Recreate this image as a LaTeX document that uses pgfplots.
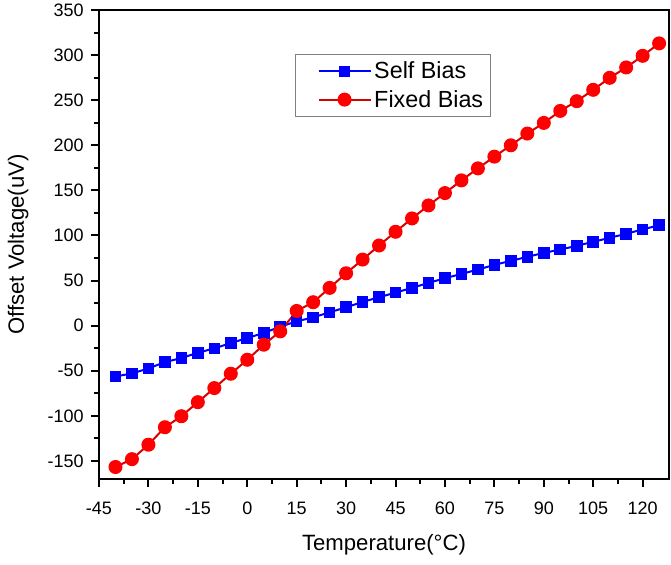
\documentclass[border=0pt]{standalone}
\usepackage{fontspec}
\setmainfont{Liberation Sans}
\usepackage{pgfplots}
\pgfplotsset{compat=1.18}
\begin{document}
\begin{tikzpicture}
\begin{axis}[
 scale only axis, width=427.5pt, height=351.75pt,
 xmin=-45, xmax=128, ymin=-170, ymax=350,
 xtick={-45,-30,...,120}, ytick={-150,-100,...,350},
 minor x tick num=1, minor y tick num=1,
 tick align=outside, xtick pos=bottom, ytick pos=left,
 major tick length=6pt, minor tick length=3.5pt,
 axis line style={line width=1.5pt},
 every tick/.style={line width=1.5pt,black},
 ticklabel style={font=\fontsize{13.5}{15}\selectfont},
 xticklabel style={yshift=-8pt},
 yticklabel style={xshift=-2pt},
 /pgf/number format/assume math mode=true,
 xlabel={Temperature(°C)}, ylabel={Offset Voltage(uV)},
 label style={font=\fontsize{16.6}{19}\selectfont},
 xlabel shift=8pt, ylabel shift=7.5pt,
 legend style={at={(0.344,0.906)}, anchor=north west, draw=gray, line width=0.75pt,
   font=\fontsize{17.5}{20}\selectfont, inner xsep=3.5pt, inner ysep=3.5pt, row sep=3pt,
   /tikz/every even column/.append style={column sep=4pt}},
 legend cell align=left,
 legend image code/.code={\path (0pt,0pt); \draw[mark repeat=2,mark phase=2,#1] plot coordinates {(13pt,0pt) (32.5pt,0pt) (52pt,0pt)};},
]
\coordinate (sw) at (rel axis cs:0,0);
\addplot[blue, line width=1.5pt, mark=square*, mark size=3.6pt, mark options={solid, fill=blue}] coordinates {
(-40,-56.3) (-35,-53) (-30,-47.4) (-25,-40.4) (-20,-35.9) (-15,-30) (-10,-25.2) (-5,-19.3)
(0,-13.7) (5,-8.1) (10,-1.1) (15,4.8) (20,9.2) (25,14.8) (30,20.4) (35,26.3) (40,31.5)
(45,36.7) (50,41.9) (55,47.4) (60,52.6) (65,57.4) (70,62.2) (75,67.4) (80,71.9) (85,76.3)
(90,80.7) (95,84.4) (100,88.5) (105,93) (110,97.4) (115,101.9) (120,106.7) (125,111.4)
};
\addlegendentry{Self Bias}
\addplot[red!85!black, line width=1.5pt, mark=*, mark size=4.5pt, mark options={solid, fill=red, draw=red}] coordinates {
(-40,-156.7) (-35,-148) (-30,-132) (-25,-112.6) (-20,-100.4) (-15,-84.8) (-10,-69.2) (-5,-53.3)
(0,-37.8) (5,-21.1) (10,-6.3) (15,16.3) (20,26) (25,41.9) (30,58.1) (35,73.3) (40,88.9)
(45,104.1) (50,118.9) (55,133.3) (60,147) (65,161.1) (70,174.4) (75,187.4) (80,200) (85,213)
(90,224.8) (95,238.1) (100,248.9) (105,261.5) (110,274.8) (115,286.3) (120,299.2) (125,313)
};
\addlegendentry{Fixed Bias}
\end{axis}
\pgfresetboundingbox
\useasboundingbox (sw) ++(-74.25pt,-63.75pt) rectangle ++(503.25pt,423pt);
\end{tikzpicture}
\end{document}
